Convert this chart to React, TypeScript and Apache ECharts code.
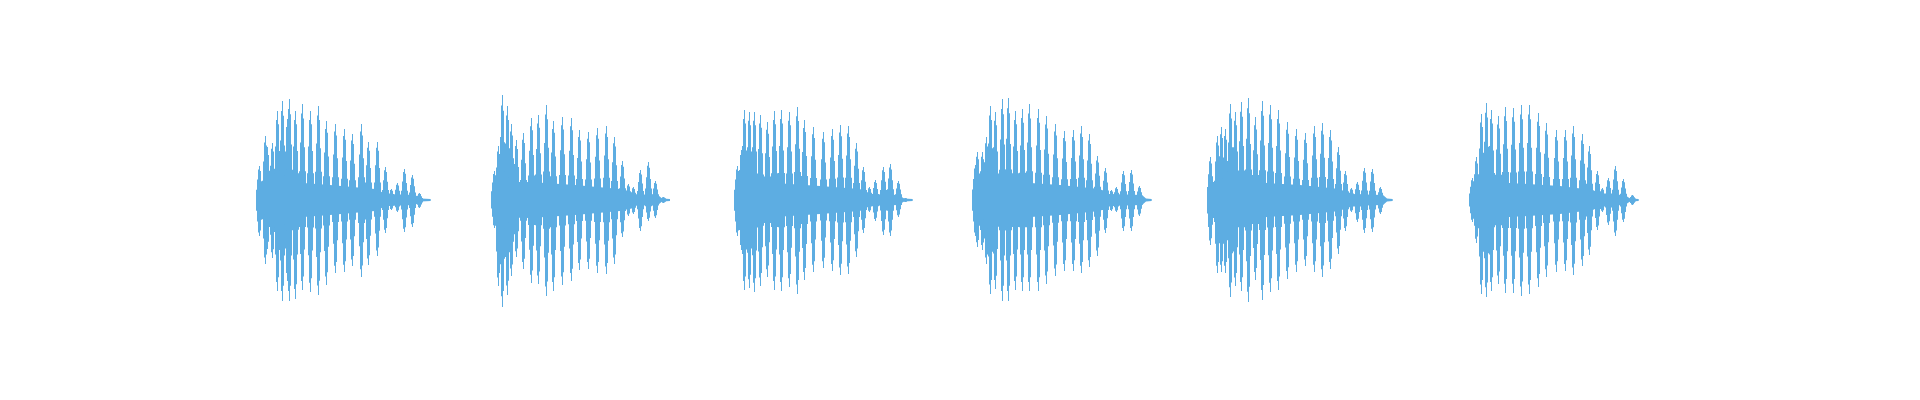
import React, { useEffect, useRef } from "react";
import * as echarts from "echarts";

const WAVE_COLOR = "#5DADE2";

// Pulses of each burst: [time (s), upper peak, lower peak]
const burst1Pulses = [
  [2.59, 0.34, 0.36], [2.647, 0.64, 0.64], [2.673, 0.53, 0.49], [2.723, 0.57, 0.58],
  [2.77, 0.89, 0.91], [2.823, 0.99, 1.01], [2.873, 0.81, 0.81], [2.89, 1.01, 1.01],
  [2.953, 0.89, 0.99], [3.023, 0.96, 0.9], [3.1, 0.89, 0.92], [3.177, 0.94, 0.95],
  [3.26, 0.79, 0.85], [3.347, 0.76, 0.73], [3.437, 0.71, 0.72], [3.52, 0.66, 0.66],
  [3.613, 0.76, 0.77], [3.683, 0.58, 0.65], [3.77, 0.58, 0.56], [3.847, 0.33, 0.33],
  [3.91, 0.11, 0.1], [3.967, 0.17, 0.12], [4.037, 0.31, 0.32], [4.117, 0.25, 0.27],
  [4.193, 0.07, 0.08],
];
const burst2Pulses = [
  [4.94, 0.29, 0.28], [4.98, 0.54, 0.86], [5.017, 1.05, 1.07], [5.067, 0.94, 0.95],
  [5.11, 0.76, 0.76], [5.16, 0.6, 0.57], [5.233, 0.67, 0.69], [5.307, 0.82, 0.83],
  [5.383, 0.85, 0.84], [5.457, 0.95, 0.96], [5.533, 0.79, 0.91], [5.62, 0.83, 0.85],
  [5.707, 0.82, 0.81], [5.79, 0.7, 0.7], [5.883, 0.68, 0.69], [5.973, 0.72, 0.73],
  [6.06, 0.74, 0.74], [6.14, 0.63, 0.64], [6.217, 0.39, 0.37], [6.277, 0.16, 0.16],
  [6.333, 0.13, 0.14], [6.4, 0.3, 0.31], [6.477, 0.38, 0.21], [6.55, 0.19, 0.18],
  [6.633, 0.03, 0.03],
];
const burst3Pulses = [
  [7.373, 0.34, 0.36], [7.41, 0.5, 0.5], [7.443, 0.9, 0.9], [7.493, 0.88, 0.88],
  [7.54, 0.88, 0.92], [7.603, 0.85, 0.86], [7.667, 0.78, 0.77], [7.74, 0.89, 0.9],
  [7.81, 0.9, 0.91], [7.89, 0.88, 0.87], [7.967, 0.93, 0.94], [8.043, 0.8, 0.8],
  [8.133, 0.73, 0.72], [8.227, 0.68, 0.68], [8.317, 0.71, 0.71], [8.4, 0.75, 0.75],
  [8.483, 0.74, 0.74], [8.56, 0.57, 0.57], [8.633, 0.33, 0.33], [8.693, 0.13, 0.12],
  [8.753, 0.2, 0.21], [8.827, 0.33, 0.35], [8.9, 0.36, 0.36], [8.977, 0.19, 0.17],
  [9.05, 0.02, 0.02],
];
const burst4Pulses = [
  [9.747, 0.35, 0.36], [9.767, 0.48, 0.47], [9.823, 0.48, 0.5], [9.86, 0.63, 0.64],
  [9.903, 0.94, 0.94], [9.953, 0.88, 0.89], [10.017, 1.01, 1.01], [10.083, 1.02, 1.01],
  [10.15, 0.89, 0.9], [10.217, 0.91, 0.91], [10.293, 0.96, 0.91], [10.377, 0.91, 0.91],
  [10.46, 0.84, 0.84], [10.55, 0.76, 0.76], [10.64, 0.69, 0.71], [10.727, 0.7, 0.71],
  [10.813, 0.74, 0.73], [10.893, 0.66, 0.67], [10.967, 0.44, 0.56], [11.047, 0.32, 0.33],
  [11.107, 0.1, 0.11], [11.16, 0.13, 0.12], [11.23, 0.29, 0.31], [11.307, 0.3, 0.31],
  [11.39, 0.14, 0.16],
];
const burst5Pulses = [
  [12.103, 0.43, 0.45], [12.167, 0.64, 0.73], [12.207, 0.73, 0.72], [12.25, 0.71, 0.73],
  [12.3, 0.96, 0.97], [12.347, 0.88, 0.86], [12.413, 0.98, 0.91], [12.477, 1.02, 1.02],
  [12.547, 0.83, 0.8], [12.62, 0.99, 1.0], [12.7, 0.95, 0.92], [12.783, 0.9, 0.9],
  [12.867, 0.78, 0.79], [12.96, 0.71, 0.72], [13.047, 0.67, 0.66], [13.14, 0.74, 0.72],
  [13.223, 0.77, 0.77], [13.3, 0.7, 0.69], [13.377, 0.53, 0.54], [13.45, 0.29, 0.31],
  [13.51, 0.12, 0.12], [13.573, 0.18, 0.22], [13.643, 0.32, 0.33], [13.72, 0.31, 0.32],
  [13.8, 0.13, 0.14],
];
const burst6Pulses = [
  [14.72, 0.22, 0.22], [14.763, 0.43, 0.43], [14.807, 0.86, 0.94], [14.857, 0.97, 0.97],
  [14.91, 0.9, 0.91], [14.983, 0.84, 0.84], [15.05, 0.93, 0.93], [15.133, 0.92, 0.93],
  [15.207, 0.95, 0.96], [15.29, 0.95, 0.94], [15.377, 0.87, 0.87], [15.46, 0.77, 0.77],
  [15.56, 0.7, 0.72], [15.65, 0.7, 0.71], [15.733, 0.74, 0.75], [15.817, 0.66, 0.66],
  [15.893, 0.54, 0.55], [15.967, 0.29, 0.3], [16.02, 0.12, 0.12], [16.077, 0.22, 0.25],
  [16.153, 0.34, 0.36], [16.23, 0.21, 0.22], [16.317, 0.05, 0.05],
];

// Dense body envelope of each burst: [time (s), amplitude]
const burst1Body = [
  [2.573, 0.02], [2.585, 0.17], [2.9, 0.18], [3.3, 0.15], [3.75, 0.11],
  [3.86, 0.06], [4.15, 0.05], [4.21, 0.015], [4.307, 0.01],
];
const burst2Body = [
  [4.92, 0.02], [4.935, 0.17], [5.3, 0.18], [5.75, 0.15], [6.2, 0.11],
  [6.28, 0.06], [6.58, 0.05], [6.62, 0.015], [6.7, 0.01],
];
const burst3Body = [
  [7.34, 0.02], [7.36, 0.18], [7.75, 0.17], [8.2, 0.14], [8.6, 0.11],
  [8.68, 0.06], [8.99, 0.05], [9.04, 0.015], [9.127, 0.01],
];
const burst4Body = [
  [9.727, 0.03], [9.74, 0.18], [10.15, 0.18], [10.6, 0.15], [11.0, 0.11],
  [11.09, 0.06], [11.42, 0.05], [11.46, 0.015], [11.517, 0.01],
];
const burst5Body = [
  [12.093, 0.02], [12.1, 0.18], [12.5, 0.18], [13.0, 0.15], [13.4, 0.11],
  [13.49, 0.06], [13.83, 0.05], [13.87, 0.015], [13.927, 0.01],
];
const burst6Body = [
  [14.7, 0.02], [14.715, 0.17], [15.1, 0.17], [15.6, 0.14], [15.93, 0.1],
  [16.0, 0.06], [16.25, 0.05], [16.3, 0.015], [16.387, 0.01],
];

const allPulses = [
  ...burst1Pulses, ...burst2Pulses, ...burst3Pulses,
  ...burst4Pulses, ...burst5Pulses, ...burst6Pulses,
];
const allBodies = [burst1Body, burst2Body, burst3Body, burst4Body, burst5Body, burst6Body];

// column profile of a pulse (style only)
const PROFILE = [
  [-3, 0.3], [-2, 0.6], [-1, 0.9], [0, 1], [1, 0.85], [2, 0.55], [3, 0.3],
];

export default function App() {
  const ref = useRef<HTMLDivElement>(null);
  useEffect(() => {
    document.body.style.margin = "0";
    const chart = echarts.init(ref.current!, null, { renderer: "svg" });
    chart.setOption({
      animation: false,
      grid: { left: 0, right: 0, top: 0, bottom: 0 },
      xAxis: { type: "value", min: 0, max: 19.2, show: false },
      yAxis: { type: "value", min: -2, max: 2, show: false },
      series: [
        {
          type: "custom",
          silent: true,
          data: allBodies.map((b) => [b[0][0], 0]),
          renderItem: (params: any, api: any) => {
            const b = allBodies[params.dataIndex];
            const top = b.map(([t, a]) => api.coord([t, a]));
            const bot = b.slice().reverse().map(([t, a]) => api.coord([t, -a]));
            return {
              type: "polygon",
              shape: { points: [...top, ...bot] },
              style: { fill: WAVE_COLOR },
            };
          },
        },
        {
          type: "custom",
          silent: true,
          data: allPulses,
          renderItem: (params: any, api: any) => {
            const t = api.value(0);
            const hi = api.value(1);
            const lo = api.value(2);
            const c = api.coord([t, 0]);
            const unit = api.size([0, 1])[1];
            const cx = Math.round(c[0]);
            const children = PROFILE.map(([off, f]) => {
              const h1 = hi * f * unit;
              const h2 = lo * f * unit;
              return {
                type: "rect",
                shape: { x: cx + off, y: c[1] - h1, width: 1, height: h1 + h2 },
                style: { fill: WAVE_COLOR },
              };
            });
            return { type: "group", children };
          },
        },
      ],
    });
    return () => chart.dispose();
  }, []);
  return <div ref={ref} style={{ width: 1920, height: 400 }} />;
}
